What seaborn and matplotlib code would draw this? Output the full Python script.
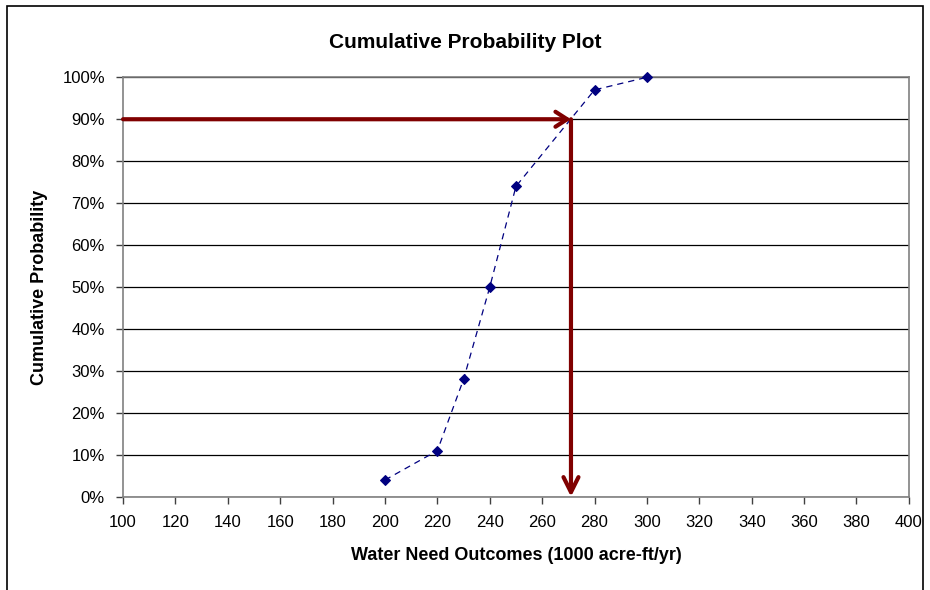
import matplotlib
matplotlib.use("Agg")
import matplotlib.pyplot as plt
import seaborn as sns
import pandas as pd
from matplotlib.patches import Rectangle
from matplotlib.ticker import PercentFormatter

water_need = [200, 220, 230, 240, 250, 280, 300]
cum_prob = [0.04, 0.11, 0.28, 0.50, 0.74, 0.97, 1.00]
target_prob = 0.90
target_value = 271

sns.set_theme(style="white")
plt.rcParams['font.family'] = ['Liberation Sans', 'DejaVu Sans']
plt.rcParams['text.color'] = 'black'
plt.rcParams['axes.labelcolor'] = 'black'

df = pd.DataFrame({"x": water_need, "y": cum_prob})

fig = plt.figure(figsize=(9.3, 5.9), dpi=100)
ax = fig.add_axes([0.1323, 0.158, 0.845, 0.711])

sns.lineplot(data=df, x="x", y="y", ax=ax, color="#000080", linestyle=(0, (5, 4)),
             linewidth=0.9, marker="D", markersize=5.5, markeredgecolor="#000080",
             clip_on=False, zorder=5)

ax.set_xlim(100, 400)
ax.set_ylim(0, 1.0)
ax.set_xticks(range(100, 401, 20))
ax.set_yticks([i / 10 for i in range(11)])
ax.yaxis.set_major_formatter(PercentFormatter(1.0, decimals=0))
ax.grid(axis="y", color="black", linewidth=0.9)
ax.set_axisbelow(True)
for s in ax.spines.values():
    s.set_color("#808080")
    s.set_linewidth(1.2)
ax.tick_params(axis="both", labelsize=12, labelcolor="black", length=5, direction="out",
               bottom=True, left=True, width=1, color="#404040", pad=8)

ax.annotate("", xy=(target_value, target_prob), xytext=(100, target_prob),
            arrowprops=dict(arrowstyle="->,head_length=0.7,head_width=0.45", color="#800000",
                            lw=3, shrinkA=0, shrinkB=0), zorder=6)
ax.annotate("", xy=(target_value, 0), xytext=(target_value, target_prob),
            arrowprops=dict(arrowstyle="->,head_length=0.9,head_width=0.45", color="#800000",
                            lw=3, shrinkA=0, shrinkB=0), zorder=6)

ax.set_xlabel("Water Need Outcomes (1000 acre-ft/yr)", fontsize=13, fontweight="bold", labelpad=12)
ax.set_ylabel("Cumulative Probability", fontsize=13, fontweight="bold", labelpad=10)
fig.text(0.5, 0.928, "Cumulative Probability Plot", ha="center", va="center",
         fontsize=15, fontweight="bold", color="black")

fig.patches.append(Rectangle((0.008, -0.05), 0.985, 1.04, transform=fig.transFigure,
                             fill=False, edgecolor="black", linewidth=1.2))

fig.savefig("out.png", dpi=100)
